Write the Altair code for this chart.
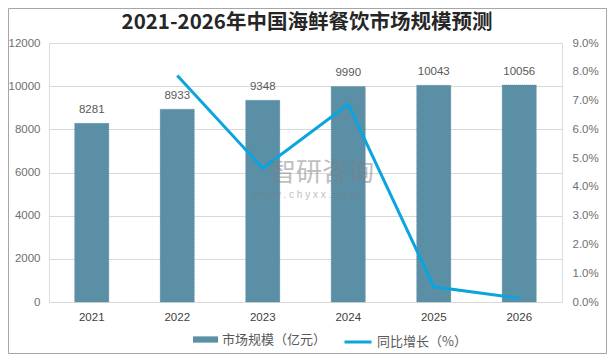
import altair as alt
import pandas as pd

years = ["2021", "2022", "2023", "2024", "2025", "2026"]
market_size = [8281, 8933, 9348, 9990, 10043, 10056]
growth_pct = [None, 7.87, 4.65, 6.87, 0.53, 0.13]

title_text = "2021-2026年中国海鲜餐饮市场规模预测"
bar_name = "市场规模（亿元）"
line_name = "同比增长（%）"

df = pd.DataFrame({
    "year": years,
    "size": market_size,
    "growth": [g / 100 if g is not None else None for g in growth_pct],
    "s1": [bar_name] * len(years),
    "s2": [line_name] * len(years),
})

W, H = 513, 259
PL, PT, PR, PB = 41, 35, 45, 52

FONT = "Liberation Sans"
CJK = "Noto Sans CJK SC"

x_enc = alt.X(
    "year:N",
    sort=years,
    title=None,
    scale=alt.Scale(paddingInner=0.6, paddingOuter=0.3),
    axis=alt.Axis(labelAngle=0, ticks=False, domain=False, labelPadding=9,
                  labelFontSize=11.5, labelColor="#404040", labelFont=FONT),
)

base = alt.Chart(df)

bars = base.mark_bar(stroke="#4F7F96", strokeWidth=0.5, strokeDash=[1, 1]).encode(
    x=x_enc,
    y=alt.Y("size:Q", title=None,
            scale=alt.Scale(domain=[0, 12000], nice=False),
            axis=alt.Axis(values=[0, 2000, 4000, 6000, 8000, 10000, 12000],
                          ticks=False, domain=False, labelPadding=9,
                          labelFontSize=11.5, labelColor="#6F6F6F", labelFont=FONT,
                          gridColor="#D9D9D9", gridWidth=1, format="d")),
    fill=alt.Fill("s1:N", title=None,
                  scale=alt.Scale(range=["#5B8FA6"]),
                  legend=alt.Legend(orient="none", legendX=144, legendY=284,
                                    symbolType="M-1,-0.25H1V0.25H-1Z", symbolSize=625,
                                    symbolStrokeWidth=0,
                                    labelFont=CJK, labelFontSize=13, labelColor="#595959",
                                    labelOffset=4)),
)

labels = base.mark_text(baseline="bottom", dy=-8, fontSize=11.5, font=FONT, color="#595959").encode(
    x=alt.X("year:N", sort=years),
    y=alt.Y("size:Q"),
    text=alt.Text("size:Q", format="d"),
)

line = base.transform_filter("datum.growth != null").mark_line(strokeWidth=3).encode(
    x=alt.X("year:N", sort=years),
    y=alt.Y("growth:Q", title=None,
            scale=alt.Scale(domain=[0, 0.09], nice=False),
            axis=alt.Axis(orient="right", values=[i / 100 for i in range(10)],
                          format=".1%", ticks=False, domain=False, grid=False,
                          labelPadding=10, labelFontSize=11.5, labelColor="#6F6F6F",
                          labelFont=FONT)),
    stroke=alt.Stroke("s2:N", title=None,
                      scale=alt.Scale(range=["#0AA5DE"]),
                      legend=alt.Legend(orient="none", legendX=294, legendY=284,
                                        symbolType="stroke", symbolSize=729,
                                        symbolStrokeWidth=3,
                                        labelFont=CJK, labelFontSize=13, labelColor="#595959",
                                        labelOffset=4)),
)

title = alt.Chart(pd.DataFrame({"t": [title_text]})).mark_text(
    fontSize=20.5, font=CJK, fontWeight="bold", color="#262626", align="center", baseline="middle"
).encode(text="t:N", x=alt.value(258), y=alt.value(-20))

wm1 = alt.Chart(pd.DataFrame({"t": ["智研咨询"]})).mark_text(
    fontSize=26, font=CJK, color="#7F7F7F", opacity=0.5, align="center", baseline="middle"
).encode(text="t:N", x=alt.value(273), y=alt.value(130))

wm2 = alt.Chart(pd.DataFrame({"t": ["w w w . c h y x x . c o m"]})).mark_text(
    fontSize=10, font=FONT, color="#7F7F7F", opacity=0.5, align="center", baseline="middle"
).encode(text="t:N", x=alt.value(257), y=alt.value(152))

border = alt.Chart(pd.DataFrame({"a": [0]})).mark_rect(
    fill=None, stroke="#A6A6A6", strokeWidth=1
).encode(x=alt.value(-40.5), x2=alt.value(W + PR - 0.5),
         y=alt.value(-PT + 0.5), y2=alt.value(H + PB - 0.5))

left = alt.layer(bars, labels)
chart = alt.layer(left, line, title, wm1, wm2, border).resolve_scale(
    y="independent", fill="independent", stroke="independent"
).properties(
    width=W, height=H,
    padding={"left": PL, "top": PT, "right": PR, "bottom": PB},
    autosize=alt.AutoSizeParams(type="none"),
).configure_view(stroke=None).configure(background="white")

chart.save("out.html", embed_options={"renderer": "svg", "actions": False})
